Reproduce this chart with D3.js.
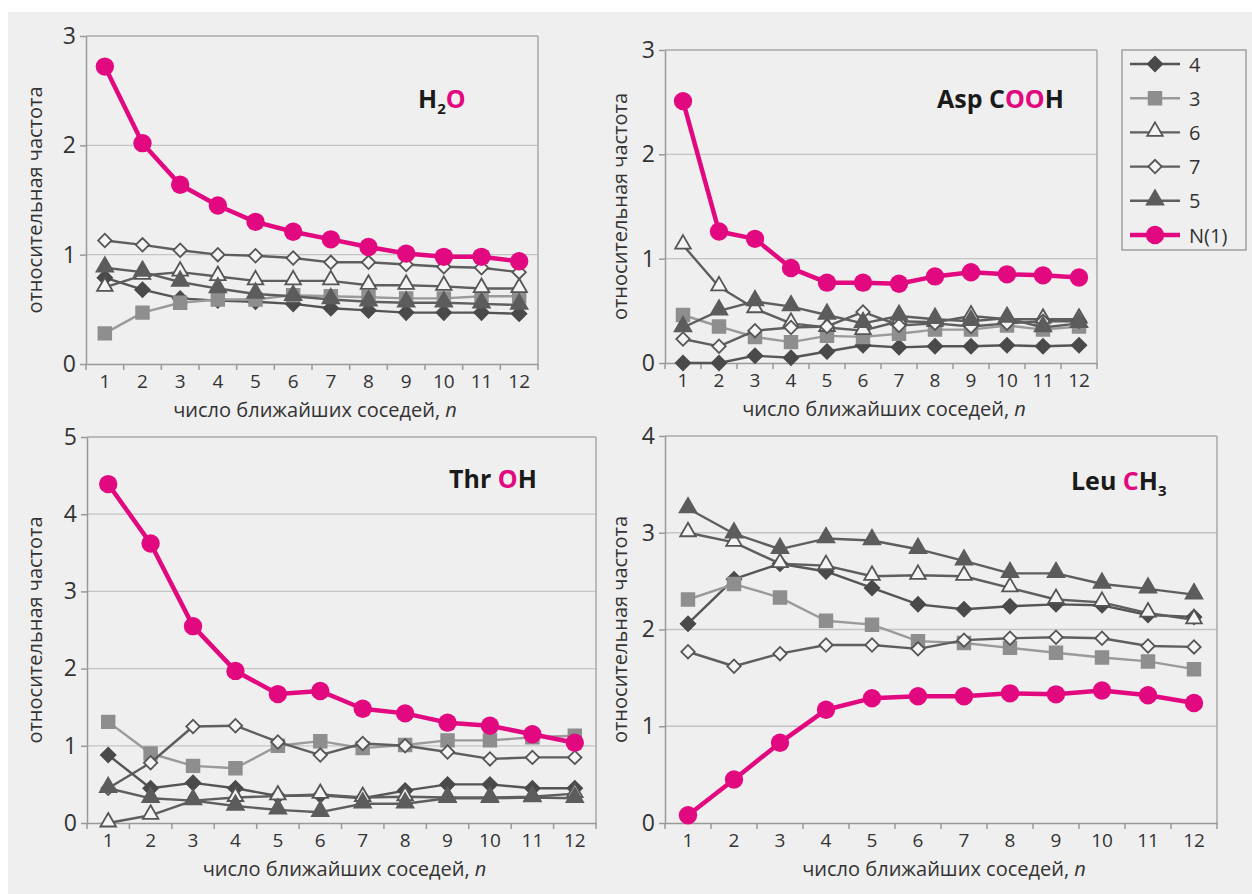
<!DOCTYPE html>
<html><head><meta charset="utf-8">
<script src="https://cdn.jsdelivr.net/npm/d3@7"></script>
<style>body{margin:0;background:#fff}</style>
</head><body>
<svg id="chart" width="1252" height="894"></svg>
<script>
// ---------- DATA ----------
const categories = [1,2,3,4,5,6,7,8,9,10,11,12];
const seriesNames = ["4","3","6","7","5","N(1)"];
const yTicksH2O = [0,1,2,3];
const yTicksAsp = [0,1,2,3];
const yTicksThr = [0,1,2,3,4,5];
const yTicksLeu = [0,1,2,3,4];

// H2O
const h2o_4  = [0.79,0.68,0.60,0.58,0.57,0.55,0.51,0.49,0.47,0.47,0.47,0.46];
const h2o_3  = [0.28,0.47,0.56,0.59,0.59,0.63,0.62,0.61,0.60,0.60,0.62,0.62];
const h2o_6  = [0.70,0.81,0.84,0.80,0.76,0.76,0.76,0.72,0.72,0.71,0.69,0.69];
const h2o_7  = [1.13,1.09,1.04,1.00,0.99,0.97,0.93,0.93,0.91,0.89,0.88,0.84];
const h2o_5  = [0.88,0.84,0.75,0.69,0.64,0.62,0.59,0.57,0.56,0.56,0.55,0.54];
const h2o_N1 = [2.72,2.02,1.64,1.45,1.30,1.21,1.14,1.07,1.01,0.98,0.98,0.94];

// Asp COOH
const asp_4  = [0.00,0.00,0.07,0.05,0.11,0.17,0.15,0.16,0.16,0.17,0.16,0.17];
const asp_3  = [0.46,0.35,0.25,0.20,0.26,0.25,0.28,0.32,0.32,0.36,0.32,0.35];
const asp_6  = [1.13,0.73,0.52,0.38,0.34,0.31,0.40,0.39,0.45,0.42,0.42,0.42];
const asp_7  = [0.23,0.16,0.31,0.34,0.35,0.49,0.36,0.38,0.35,0.38,0.40,0.40];
const asp_5  = [0.34,0.50,0.59,0.54,0.46,0.38,0.45,0.42,0.40,0.43,0.34,0.38];
const asp_N1 = [2.51,1.26,1.19,0.91,0.77,0.77,0.76,0.83,0.87,0.85,0.84,0.82];

// Thr OH
const thr_4  = [0.88,0.45,0.52,0.45,0.35,0.36,0.32,0.42,0.50,0.50,0.45,0.45];
const thr_3  = [1.31,0.90,0.74,0.71,1.00,1.06,0.97,1.01,1.07,1.07,1.11,1.13];
const thr_6  = [0.00,0.10,0.29,0.33,0.35,0.37,0.33,0.34,0.33,0.33,0.34,0.38];
const thr_7  = [0.45,0.78,1.25,1.26,1.05,0.88,1.03,1.00,0.92,0.83,0.85,0.85];
const thr_5  = [0.45,0.32,0.29,0.22,0.17,0.14,0.25,0.25,0.32,0.32,0.33,0.32];
const thr_N1 = [4.39,3.62,2.55,1.97,1.67,1.71,1.48,1.42,1.30,1.26,1.15,1.04];

// Leu CH3
const leu_4  = [2.06,2.52,2.68,2.60,2.43,2.26,2.21,2.24,2.26,2.25,2.15,2.13];
const leu_3  = [2.31,2.47,2.33,2.09,2.05,1.88,1.86,1.81,1.76,1.71,1.67,1.59];
const leu_6  = [3.00,2.90,2.68,2.66,2.55,2.56,2.55,2.43,2.31,2.28,2.17,2.10];
const leu_7  = [1.77,1.62,1.75,1.84,1.84,1.80,1.89,1.91,1.92,1.91,1.83,1.82];
const leu_5  = [3.25,2.99,2.83,2.94,2.92,2.83,2.71,2.58,2.58,2.47,2.42,2.36];
const leu_N1 = [0.08,0.45,0.83,1.17,1.29,1.31,1.31,1.34,1.33,1.37,1.32,1.24];

// ---------- STYLE / LAYOUT ----------
const PINK = "#e2087f";
const FONT = "'Open Sans', 'Noto Sans', sans-serif";
const styles = {
  "4":    {line:"#555555", w:2.4, shape:"diamond",  fill:"#4a4a4a", stroke:"#4a4a4a", size:105},
  "3":    {line:"#9a9a9a", w:2.4, shape:"square",   fill:"#8e8e8e", stroke:"#8e8e8e", size:160},
  "6":    {line:"#5e5e5e", w:2.4, shape:"triangle", fill:"#f4f4f4", stroke:"#555555", size:105},
  "7":    {line:"#5e5e5e", w:2.4, shape:"diamond",  fill:"#f4f4f4", stroke:"#555555", size:90},
  "5":    {line:"#5e5e5e", w:2.4, shape:"triangle", fill:"#5c5c5c", stroke:"#5c5c5c", size:120},
  "N(1)": {line:PINK,      w:4.5, shape:"circle",   fill:PINK,      stroke:PINK,      size:265}
};

const panels = [
  {title:[["H",0],["2",1],["O",2]], tx:418, ty:108, data:[h2o_4,h2o_3,h2o_6,h2o_7,h2o_5,h2o_N1], ticks:yTicksH2O,
   x0:86, x1:538, yt:36, yb:364, ylab:37},
  {title:[["Asp C",0],["OO",2],["H",0]], tx:937, ty:108, data:[asp_4,asp_3,asp_6,asp_7,asp_5,asp_N1], ticks:yTicksAsp,
   x0:665, x1:1097, yt:50, yb:363, ylab:622},
  {title:[["Thr ",0],["O",2],["H",0]], tx:449, ty:488, data:[thr_4,thr_3,thr_6,thr_7,thr_5,thr_N1], ticks:yTicksThr,
   x0:87, x1:596, yt:437, yb:823, ylab:37},
  {title:[["Leu ",0],["C",2],["H",0],["3",1]], tx:1071, ty:490, data:[leu_4,leu_3,leu_6,leu_7,leu_5,leu_N1], ticks:yTicksLeu,
   x0:665, x1:1217, yt:436, yb:823, ylab:622}
];

const svg = d3.select("#chart");
svg.append("rect").attr("x",8).attr("y",12).attr("width",1244).attr("height",882).attr("fill","#efefef");

function symPath(shape, size){
  const t = {diamond:d3.symbolSquare, square:d3.symbolSquare, triangle:d3.symbolTriangle, circle:d3.symbolCircle}[shape];
  return d3.symbol().type(t).size(size)();
}
function drawMarker(g, st, x, y){
  const p = g.append("path").attr("d", symPath(st.shape, st.size))
    .attr("fill", st.fill).attr("stroke", st.stroke).attr("stroke-width", st.shape==="circle"?0:1.8);
  let tr = `translate(${x},${y})`;
  if (st.shape==="diamond") tr += " rotate(45)";
  if (st.shape==="triangle") tr += " translate(0,-1)";
  p.attr("transform", tr);
}

panels.forEach(P => {
  const g = svg.append("g");
  const x = d3.scaleBand().domain(categories).range([P.x0, P.x1]).padding(0);
  const ymax = P.ticks[P.ticks.length-1];
  const y = d3.scaleLinear().domain([0, ymax]).range([P.yb, P.yt]);
  const bw = x.bandwidth();

  // grid
  g.selectAll(".grid").data(P.ticks.filter(t => t>0 && t<ymax)).enter().append("line")
    .attr("x1",P.x0).attr("x2",P.x1).attr("y1",d=>y(d)).attr("y2",d=>y(d))
    .attr("stroke","#c4c4c4").attr("stroke-width",1.3);
  // frame top/right
  g.append("line").attr("x1",P.x0).attr("x2",P.x1).attr("y1",y(ymax)).attr("y2",y(ymax)).attr("stroke","#a8a8a8").attr("stroke-width",1.5);
  g.append("line").attr("x1",P.x1).attr("x2",P.x1).attr("y1",y(ymax)).attr("y2",y(0)).attr("stroke","#a8a8a8").attr("stroke-width",1.5);

  // y axis
  const ya = g.append("g").attr("transform",`translate(${P.x0},0)`)
    .call(d3.axisLeft(y).tickValues(P.ticks).tickFormat(d3.format("d")).tickSize(6).tickSizeOuter(0).tickPadding(4));
  ya.select(".domain").attr("stroke","#999").attr("stroke-width",1.5);
  ya.selectAll(".tick line").attr("stroke","#999").attr("stroke-width",1.5);
  ya.selectAll("text").attr("font-family",FONT).attr("font-size",23).attr("fill","#333");

  // x axis
  const xa = g.append("g").attr("transform",`translate(0,${P.yb})`)
    .call(d3.axisBottom(x).tickSize(0).tickPadding(11).tickSizeOuter(0));
  xa.select(".domain").attr("stroke","#999").attr("stroke-width",1.5);
  xa.selectAll("text").attr("font-family",FONT).attr("font-size",19).attr("fill","#333");
  const edges = categories.map(c => x(c)).concat([P.x1]);
  g.selectAll(".xt").data(edges).enter().append("line")
    .attr("x1",d=>d).attr("x2",d=>d).attr("y1",P.yb).attr("y2",P.yb+6)
    .attr("stroke","#999").attr("stroke-width",1.5);

  // axis titles
  g.append("text").attr("transform",`translate(${P.ylab},${(P.yt+P.yb)/2}) rotate(-90)`)
    .attr("text-anchor","middle").attr("dominant-baseline","middle")
    .attr("font-family",FONT).attr("font-size",20).attr("fill","#333").text("относительная частота");
  const xt = g.append("text").attr("x",(P.x0+P.x1)/2 + 3).attr("y",P.yb+53)
    .attr("text-anchor","middle").attr("font-family",FONT).attr("font-size",20).attr("fill","#333");
  xt.append("tspan").text("число ближайших соседей, ");
  xt.append("tspan").attr("font-style","italic").text("n");

  // series
  const line = d3.line().x(d => x(d.c)+bw/2).y(d => y(d.v));
  seriesNames.forEach((name, i) => {
    const st = styles[name];
    const pts = categories.map((c, k) => ({c, v: P.data[i][k]}));
    g.append("path").datum(pts).attr("d", line).attr("fill","none")
      .attr("stroke", st.line).attr("stroke-width", st.w).attr("stroke-linejoin","round");
    pts.forEach(d => drawMarker(g, st, x(d.c)+bw/2, y(d.v)));
  });

  // panel title
  const tt = g.append("text").attr("x",P.tx).attr("y",P.ty).attr("font-family",FONT)
    .attr("font-weight","bold").attr("font-size",25).attr("fill","#1a1a1a");
  let shifted = false;
  P.title.forEach(([s, kind]) => {
    const ts = tt.append("tspan").text(s);
    if (kind===1){ ts.attr("font-size",15).attr("dy",6); shifted = true; }
    else if (shifted){ ts.attr("dy",-6); shifted = false; }
    if (kind===2) ts.attr("fill",PINK);
  });
});

// legend
const lg = svg.append("g");
lg.append("rect").attr("x",1122).attr("y",50).attr("width",124).attr("height",200)
  .attr("fill","none").attr("stroke","#8a8a8a").attr("stroke-width",1.2);
const ly = d3.scalePoint().domain(seriesNames).range([64,235]);
seriesNames.forEach(name => {
  const st = styles[name];
  lg.append("line").attr("x1",1130).attr("x2",1180).attr("y1",ly(name)).attr("y2",ly(name))
    .attr("stroke",st.line).attr("stroke-width",st.w);
  drawMarker(lg, st, 1155, ly(name));
  lg.append("text").attr("x",1189).attr("y",ly(name)).attr("dominant-baseline","central")
    .attr("font-family",FONT).attr("font-size",20).attr("fill","#333").text(name);
});
</script>
</body></html>
